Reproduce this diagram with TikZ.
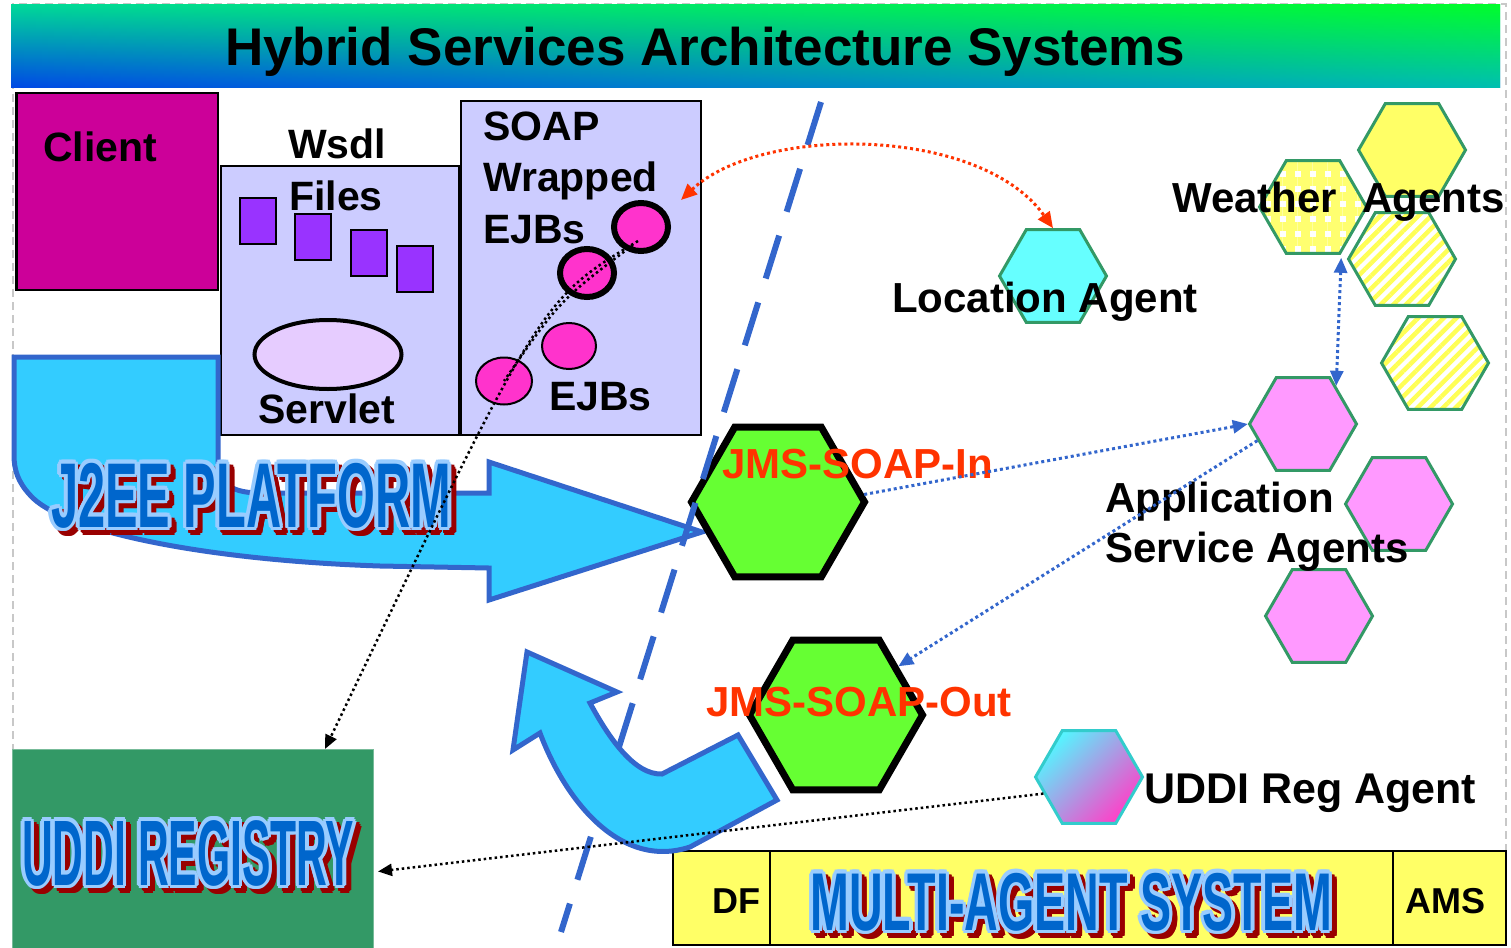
\documentclass[tikz,border=0pt]{standalone}
\usepackage{fontspec}
\setmainfont{Liberation Sans}
\usepackage{graphicx}
\usetikzlibrary{shapes.geometric,arrows.meta,patterns.meta,fadings}
\definecolor{clientc}{HTML}{CC0099}
\definecolor{lav}{HTML}{CCCCFF}
\definecolor{purp}{HTML}{9933FF}
\definecolor{ejbpink}{HTML}{FF33CC}
\definecolor{servc}{HTML}{E6CCFF}
\definecolor{arrowfill}{HTML}{33CCFF}
\definecolor{arrowline}{HTML}{3366CC}
\definecolor{uddigreen}{HTML}{339966}
\definecolor{uddiline}{HTML}{77BB99}
\definecolor{masy}{HTML}{FFFF66}
\definecolor{jmsgreen}{HTML}{66FF33}
\definecolor{cyanloc}{HTML}{66FFFF}
\definecolor{hexgreen}{HTML}{339966}
\definecolor{yel}{HTML}{FFFF66}
\definecolor{stripey}{HTML}{FFFF55}
\definecolor{checky}{HTML}{FFFF70}
\definecolor{pinkag}{HTML}{FF99FF}
\definecolor{udtop}{HTML}{55F5FF}
\definecolor{udbot}{HTML}{FF40C8}
\definecolor{udline}{HTML}{33CCCC}
\definecolor{redtxt}{HTML}{FF3300}
\definecolor{fmain}{HTML}{0066CC}
\definecolor{fout}{HTML}{99CCFF}
\definecolor{fshadow}{HTML}{990000}
\definecolor{titletl}{HTML}{00D89A}
\definecolor{titlebl}{HTML}{0048E6}
\definecolor{titletr}{HTML}{00FF28}
\definecolor{titlebr}{HTML}{00C4B0}
\definecolor{graybord}{HTML}{C8C8C8}
\definecolor{dotblue}{HTML}{3366CC}
\tikzset{
  boxn/.style={draw=black, line width=2pt, inner sep=0},
  lbl/.style={anchor=base west, inner sep=0, font=\fontsize{41}{48}\selectfont\bfseries},
  fancy/.style={anchor=base west, inner sep=0, font=\bfseries},
  agent/.style={regular polygon, regular polygon sides=6, inner sep=0, minimum size=107pt, draw=hexgreen, line width=3pt},
  jms/.style={regular polygon, regular polygon sides=6, inner sep=0, minimum size=173pt, draw=black, line width=7pt, fill=jmsgreen},
  ejbw/.style={ellipse, draw=black, line width=6pt, fill=ejbpink, inner sep=0, minimum width=54pt, minimum height=48pt},
  ejbp/.style={ellipse, draw=black, line width=2pt, fill=ejbpink, inner sep=0, minimum width=54pt, minimum height=46pt},
  bigarrow/.style={fill=arrowfill, draw=arrowline, line width=5pt},
  stripes/.style={preaction={fill=white}, pattern={Lines[angle=45,distance=9pt,line width=4.5pt]}, pattern color=stripey},
  checker/.style={preaction={fill=white}, pattern={Hatch[angle=0,distance=15pt,line width=9pt]}, pattern color=checky},
  reddot/.style={draw=redtxt, line width=3pt, dash pattern=on 3pt off 3pt},
  bluedot/.style={draw=dotblue, line width=3pt, dash pattern=on 3pt off 3pt},
  blackdot/.style={draw=black, line width=2.5pt, dash pattern=on 2.5pt off 3pt},
  tipb/.tip={Triangle[length=15pt,width=13pt]},
}
\newcommand\fancytext[6]{%
  \node[fancy, text=fshadow, xshift=5pt, yshift=-5pt] (#1s0) at (#2,#3) {\scalebox{#5}[1]{\fontsize{#4}{#4}\selectfont #6}};
  \foreach \a [count=\i] in {0,30,...,330}{%
    \node[fancy, text=fshadow, xshift={5pt+3.5pt*cos(\a)}, yshift={-5pt+3.5pt*sin(\a)}] (#1s\i) at (#2,#3) {\scalebox{#5}[1]{\fontsize{#4}{#4}\selectfont #6}};
  }%
  \foreach \a [count=\i] in {0,30,...,330}{%
    \node[fancy, text=fout, xshift={3.5pt*cos(\a)}, yshift={3.5pt*sin(\a)}] (#1o\i) at (#2,#3) {\scalebox{#5}[1]{\fontsize{#4}{#4}\selectfont #6}};
  }%
  \node[fancy, text=fmain] (#1) at (#2,#3) {\scalebox{#5}[1]{\fontsize{#4}{#4}\selectfont #6}};
}
\begin{document}
\begin{tikzpicture}[x=1pt,y=-1pt]
\useasboundingbox (0,0) rectangle (1511,947);
% page border
\draw[graybord, line width=2pt, dash pattern=on 8pt off 5pt] (13,947) -- (13,4) -- (1506,4) -- (1506,947);
% title bar
\shade[top color=titletl, bottom color=titlebl] (11,5) rectangle (1500,88);
\begin{scope}
  \clip (11,5) rectangle (1500,88);
  \shade[top color=titletr, bottom color=titlebr, path fading=west] (11,5) rectangle (1560,88);
\end{scope}
\node[anchor=base west, inner sep=0, font=\fontsize{53}{60}\selectfont\bfseries] (title) at (225,66) {Hybrid Services Architecture Systems};
% client
\node[boxn, line width=2.5pt, fill=clientc, minimum width=201.5pt, minimum height=196.5pt] (client) at (117,191.5) {};
\node[lbl] (clientl) at (43,161) {Client};
% wsdl
\node[boxn, fill=lav, minimum width=238pt, minimum height=269pt] (wsdl) at (340,300.5) {};
\node[lbl] (wsdll) at (288,158) {Wsdl};
\node[lbl] (filesl) at (289,210) {Files};
\node[boxn, fill=purp, minimum width=36pt, minimum height=46pt] (f1) at (258,221) {};
\node[boxn, fill=purp, minimum width=36pt, minimum height=46pt] (f2) at (313,237) {};
\node[boxn, fill=purp, minimum width=36pt, minimum height=46pt] (f3) at (369,252.5) {};
\node[boxn, fill=purp, minimum width=36pt, minimum height=46pt] (f4) at (415,268.5) {};
\node[ellipse, draw=black, line width=4pt, fill=servc, minimum width=147pt, minimum height=69pt, inner sep=0] (servlet) at (328,354.5) {};
\node[lbl] (servletl) at (258,423) {Servlet};
% soap
\node[boxn, fill=lav, minimum width=240pt, minimum height=334pt] (soap) at (581,268) {};
\node[lbl] (soapl1) at (483,140) {SOAP};
\node[lbl] (soapl2) at (483,191) {Wrapped};
\node[lbl] (soapl3) at (483,243) {EJBs};
\node[ejbw] (ejbA) at (641,227) {};
\node[ejbw] (ejbB) at (587,273) {};
\node[ejbp] (ejbC) at (569,346) {};
\node[ejbp, minimum width=56pt, minimum height=47pt] (ejbD) at (504,381) {};
\node[lbl] (ejbsl) at (549,410) {EJBs};
% J2EE arrow
\draw[bigarrow] (14,357) -- (218,357) -- (218,465) .. controls (218,485) and (235,493) .. (260,493) -- (489,493) -- (489,462) -- (702,532) -- (489,600) -- (489,568) -- (380,566) .. controls (200,560) and (60,530) .. (30,495) .. controls (18,482) and (14,470) .. (14,455) -- cycle;
\fancytext{j2ee}{51}{527}{92}{0.53}{J2EE PLATFORM}
% UDDI registry
\node[draw=uddiline, line width=1pt, fill=uddigreen, minimum width=361pt, minimum height=210pt, inner sep=0] (uddi) at (193,854.5) {};
\fancytext{uddit}{22}{885}{93}{0.458}{UDDI REGISTRY}
% multi-agent system bar
\node[boxn, line width=2.5pt, fill=masy, minimum width=97pt, minimum height=94pt] (df) at (721.5,898) {};
\node[boxn, line width=2.5pt, fill=masy, minimum width=623pt, minimum height=94pt] (masc) at (1081.5,898) {};
\node[boxn, line width=2.5pt, fill=masy, minimum width=113pt, minimum height=94pt] (ams) at (1449.5,898) {};
\node[lbl, font=\fontsize{36}{40}\selectfont\bfseries] (dfl) at (712,913) {DF};
\node[lbl, font=\fontsize{36}{40}\selectfont\bfseries] (amsl) at (1405,913) {AMS};
\fancytext{mast}{810}{930}{82}{0.568}{MULTI-AGENT SYSTEM}
% agents
\node[agent, fill=cyanloc] (loc) at (1053,276) {};
\node[agent, fill=yel] (w1) at (1412,150) {};
\node[agent, checker] (chk) at (1313,207) {};
\node[agent, stripes] (w3) at (1402,259) {};
\node[agent, stripes] (w4) at (1435,363) {};
\node[agent, fill=pinkag] (app1) at (1303,424) {};
\node[agent, fill=pinkag] (app2) at (1399,504) {};
\node[agent, fill=pinkag] (app3) at (1319,616) {};
\node[agent, draw=udline, top color=udtop, bottom color=udbot, shading angle=45] (udra) at (1089,777) {};
\node[jms] (jmsin) at (778,502) {};
\node[jms] (jmsout) at (836,715) {};
% dashed boundary
\coordinate (dlA) at (821,102);
\coordinate (dlB) at (561,932);
\draw[dotblue, line width=6pt, dash pattern=on 45pt off 25pt] (dlA) -- (dlB);
% return arrow
\draw[bigarrow] (527,652) -- (617,692) -- (590,703) .. controls (610,740) and (635,775) .. (662,774) -- (738,735) -- (777,800) -- (690,847) .. controls (620,870) and (565,800) .. (540,733) -- (513,750) -- cycle;
% labels
\node[lbl, text=redtxt, font=\fontsize{42}{48}\selectfont\bfseries] (jmsinl) at (722,478) {JMS-SOAP-In};
\node[lbl, text=redtxt, font=\fontsize{42}{48}\selectfont\bfseries] (jmsoutl) at (706,716) {JMS-SOAP-Out};
\node[lbl, font=\fontsize{42}{48}\selectfont\bfseries] (locl) at (892,312) {Location Agent};
\node[lbl, font=\fontsize{42}{48}\selectfont\bfseries] (wthl) at (1172,212) {Weather\hspace{25pt}Agents};
\node[lbl, font=\fontsize{42}{48}\selectfont\bfseries] (appl1) at (1105,512) {Application};
\node[lbl, font=\fontsize{42}{48}\selectfont\bfseries] (appl2) at (1105,562) {Service Agents};
\node[lbl, font=\fontsize{43}{48}\selectfont\bfseries] (udral) at (1144,803) {UDDI Reg Agent};
% connectors
\coordinate (redS) at ([shift={(40,-27)}]ejbA.center);
\draw[reddot, {Triangle[length=16pt,width=14pt]}-{Triangle[length=16pt,width=14pt]}] (redS) .. controls (760,125) and (980,125) .. (loc.north);
\coordinate (uddiTop) at ([xshift=132pt]uddi.north);
\draw[blackdot, -{Triangle[length=14pt,width=12pt]}] ([shift={(-3,14)}]ejbA.center) .. controls (540,300) .. (uddiTop);
\draw[blackdot] ([shift={(-8,18)}]ejbA.center) .. controls (560,300) .. (ejbD.center);
\draw[blackdot, -{Triangle[length=14pt,width=12pt]}] (udra.200) -- ([shift={(4,17)}]uddi.east);
\draw[bluedot, -tipb] (jmsin.5) -- (app1.west);
\draw[bluedot, -tipb] (app1.200) -- (jmsout.38);
\draw[bluedot, tipb-tipb] (chk.-61) -- (app1.49);
\end{tikzpicture}
\end{document}
